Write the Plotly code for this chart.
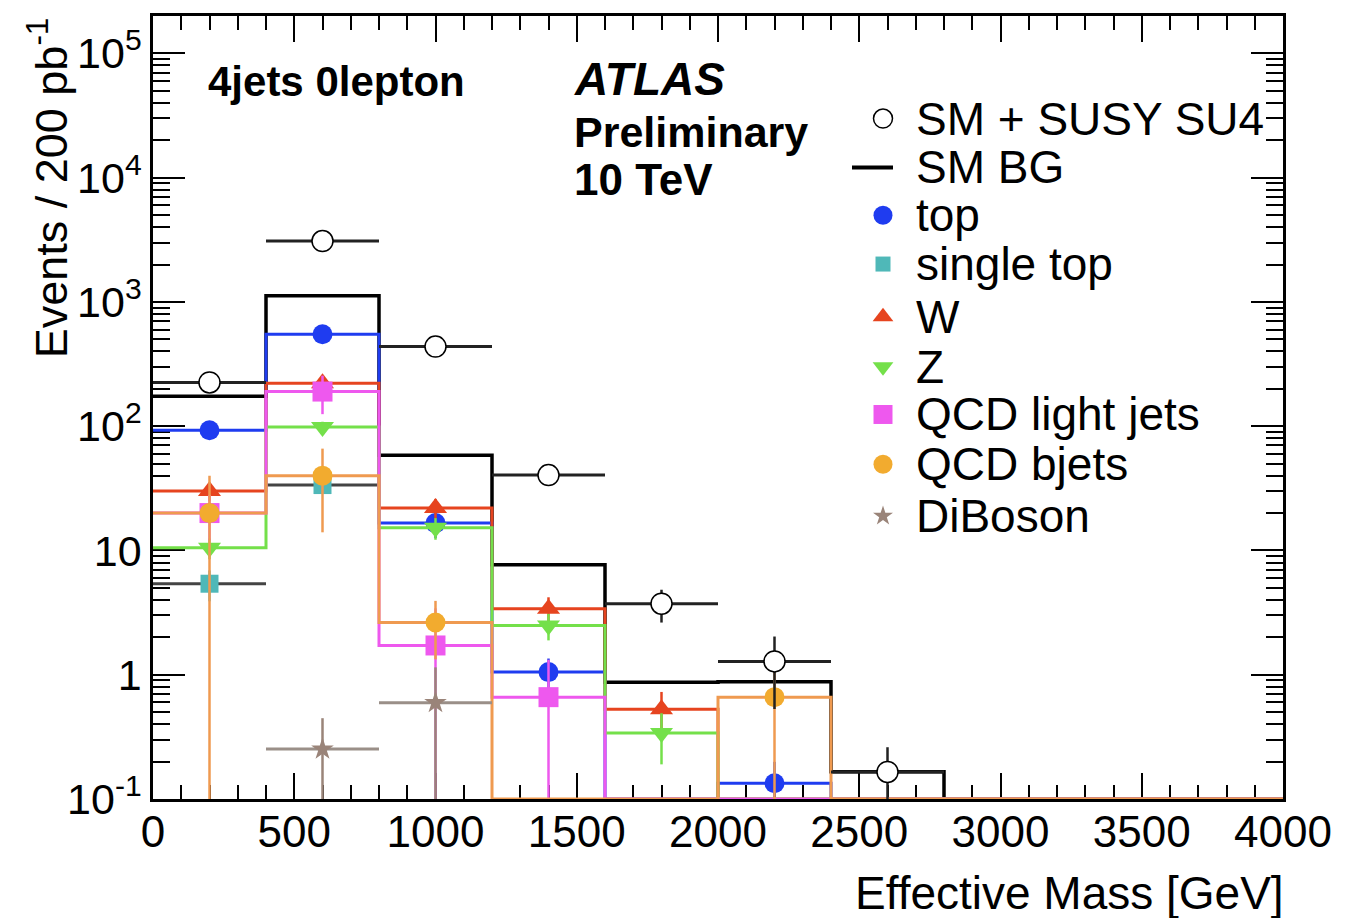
import math
import plotly.graph_objects as go

# ---------------- data ----------------
bin_edges = [0, 400, 800, 1200, 1600, 2000, 2400, 2800, 3200, 3600, 4000]
bin_centers = [200, 600, 1000, 1400, 1800, 2200, 2600, 3000, 3400, 3800]

susy_su4 = [225, 3090, 437, 40.4, 3.73, 1.28, 0.165, 0, 0, 0]
susy_su4_err = [15, 56, 21, 6.4, 1.1, 0.75, 0.096, 0, 0, 0]

sm_bg = [174, 1120, 58.4, 7.67, 0.87, 0.88, 0.166, 0, 0, 0]

top = [92.7, 549, 16.6, 1.05, 0, 0.134, 0, 0, 0, 0]
top_err = [9, 23, 4, 0.3, 0, 0.065, 0, 0, 0, 0]

single_top = [5.4, 33.6, 0, 0, 0, 0, 0, 0, 0, 0]
single_top_err = [1.5, 5, 0, 0, 0, 0, 0, 0, 0, 0]

w_boson = [30.1, 222, 22, 3.4, 0.527, 0, 0, 0, 0, 0]
w_err = [5, 15, 4, 0.8, 0.2, 0, 0, 0, 0, 0]

z_boson = [10.5, 98.6, 15.2, 2.49, 0.34, 0, 0, 0, 0, 0]
z_err = [2, 10, 3, 0.6, 0.15, 0, 0, 0, 0, 0]

qcd_light = [20, 190, 1.72, 0.66, 0, 0, 0, 0, 0, 0]
qcd_light_err = [8, 65, 1.7, 0.66, 0, 0, 0, 0, 0, 0]

qcd_bjets = [20, 40, 2.63, 0, 0, 0.66, 0, 0, 0, 0]
qcd_bjets_err = [20, 26, 1.3, 0, 0, 0.6, 0, 0, 0, 0]

diboson = [0, 0.252, 0.596, 0, 0, 0, 0, 0, 0, 0]
diboson_err = [0, 0.195, 0.55, 0, 0, 0, 0, 0, 0, 0]

x_tick_vals = [0, 500, 1000, 1500, 2000, 2500, 3000, 3500, 4000]
y_tick_vals = [0.1, 1, 10, 100, 1000, 10000, 100000]
y_tick_text = ["10<sup>-1</sup>", "1", "10", "10<sup>2</sup>", "10<sup>3</sup>",
               "10<sup>4</sup>", "10<sup>5</sup>"]

legend_labels = ["SM + SUSY SU4", "SM BG", "top", "single top", "W", "Z",
                 "QCD light jets", "QCD bjets", "DiBoson"]

# ---------------- style ----------------
YMIN, YMAX = 0.1, 2e5
FONT = "Liberation Sans, Arial, Helvetica, sans-serif"
C_TOP = "#1f3cf0"
C_STOP = "#4fb8b8"
C_W = "#e6441f"
C_Z = "#74e04a"
C_QL = "#ee58ee"
C_QB = "#f2ab2f"
C_QB_LINE = "#ef9a50"
C_DB = "#9a8479"

# page offset introduced by the default body margin of the html page
BODY = 8
W_PAGE, H_PAGE = 1367, 918
# plot area in page pixels
PL, PR, PT, PB = 153, 1283, 13, 799


def px_x(px):
    return (px - PL) / (PR - PL)


def px_y(py):
    return (PB - py) / (PB - PT)


def clip(vals):
    return [max(v, YMIN) for v in vals]


def step_trace(vals, color, width=3):
    ys = clip(vals) + [clip(vals)[-1]]
    return go.Scatter(x=bin_edges, y=ys, mode="lines", line_shape="hv",
                      line=dict(color=color, width=width), showlegend=False,
                      hoverinfo="skip")


def point_trace(vals, errs, symbol, color, size, err_color=None,
                xbars=False, xbar_color=None, line=None):
    xs, ys, ep, em, xe = [], [], [], [], []
    for c, v, e in zip(bin_centers, vals, errs):
        if v <= 0:
            continue
        xs.append(c)
        ys.append(v)
        ep.append(e)
        em.append(min(e, v - YMIN))
        xe.append(200)
    tr = go.Scatter(
        x=xs, y=ys, mode="markers",
        marker=dict(symbol=symbol, color=color, size=size,
                    line=line or dict(width=0)),
        error_y=dict(type="data", symmetric=False, array=ep, arrayminus=em,
                     color=err_color or color, thickness=2.5, width=0),
        showlegend=False, hoverinfo="skip")
    if xbars:
        tr.error_x = dict(type="data", array=xe, color=xbar_color or color,
                          thickness=3, width=0)
    return tr


fig = go.Figure()

fig.add_trace(step_trace(sm_bg, "black", 3.5))

fig.add_trace(step_trace(top, C_TOP))
fig.add_trace(point_trace(top, top_err, "circle", C_TOP, 20))

fig.add_trace(point_trace(single_top, single_top_err, "square", C_STOP, 18,
                          err_color=C_STOP, xbars=True, xbar_color="#444444"))

fig.add_trace(step_trace(w_boson, C_W))
fig.add_trace(point_trace(w_boson, w_err, "triangle-up", C_W, 20))

fig.add_trace(step_trace(z_boson, C_Z))
fig.add_trace(point_trace(z_boson, z_err, "triangle-down", C_Z, 20))

fig.add_trace(step_trace(qcd_light, C_QL))
fig.add_trace(point_trace(qcd_light, qcd_light_err, "square", C_QL, 20))

fig.add_trace(step_trace(qcd_bjets, C_QB_LINE))
fig.add_trace(point_trace(qcd_bjets, qcd_bjets_err, "circle", C_QB, 20,
                          err_color=C_QB_LINE))

fig.add_trace(point_trace(diboson, diboson_err, "star", C_DB, 17,
                          xbars=True, xbar_color="#9a8f88"))

fig.add_trace(point_trace(susy_su4, susy_su4_err, "circle", "white", 21,
                          err_color="#222222", xbars=True, xbar_color="#222222",
                          line=dict(color="black", width=1.5)))

# ---------------- manual legend (overlay axes in page-pixel units) ----------
leg_y = [116, 165, 213, 262, 315, 365, 413, 463, 515]
leg_x = 883
leg_styles = [
    dict(symbol="circle", color="white", size=19, line=dict(color="black", width=1.5)),
    None,
    dict(symbol="circle", color=C_TOP, size=19),
    dict(symbol="square", color=C_STOP, size=15),
    dict(symbol="triangle-up", color=C_W, size=18),
    dict(symbol="triangle-down", color=C_Z, size=18),
    dict(symbol="square", color=C_QL, size=19),
    dict(symbol="circle", color=C_QB, size=19),
    dict(symbol="star", color=C_DB, size=15),
]
for lab, yy, st in zip(legend_labels, leg_y, leg_styles):
    if st is None:
        fig.add_trace(go.Scatter(x=[852, 893], y=[yy, yy], mode="lines",
                                 line=dict(color="black", width=4),
                                 xaxis="x2", yaxis="y2", showlegend=False,
                                 hoverinfo="skip"))
    else:
        fig.add_trace(go.Scatter(x=[leg_x], y=[yy], mode="markers", marker=st,
                                 xaxis="x2", yaxis="y2", showlegend=False,
                                 hoverinfo="skip"))
    fig.add_annotation(x=px_x(914), y=px_y(yy), xref="paper", yref="paper",
                       text=lab, showarrow=False, xanchor="left",
                       yanchor="middle", font=dict(family=FONT, size=46,
                                                   color="black"))

# ---------------- texts ----------------
fig.add_annotation(x=px_x(206), y=px_y(79), xref="paper", yref="paper",
                   text="<b>4jets 0lepton</b>", showarrow=False, xanchor="left",
                   yanchor="middle", font=dict(family=FONT, size=42, color="black"))
fig.add_annotation(x=px_x(572), y=px_y(76), xref="paper", yref="paper",
                   text="<b><i>ATLAS</i></b>", showarrow=False, xanchor="left",
                   yanchor="middle", font=dict(family=FONT, size=46, color="black"))
fig.add_annotation(x=px_x(572), y=px_y(129), xref="paper", yref="paper",
                   text="<b>Preliminary</b>", showarrow=False, xanchor="left",
                   yanchor="middle", font=dict(family=FONT, size=43, color="black"))
fig.add_annotation(x=px_x(572), y=px_y(177), xref="paper", yref="paper",
                   text="<b>10 TeV</b>", showarrow=False, xanchor="left",
                   yanchor="middle", font=dict(family=FONT, size=44, color="black"))

# axis titles
fig.add_annotation(x=px_x(1286), y=px_y(893), xref="paper", yref="paper",
                   text="Effective Mass [GeV]", showarrow=False, xanchor="right",
                   yanchor="middle", font=dict(family=FONT, size=46, color="black"))
fig.add_annotation(x=px_x(48), y=px_y(186), xref="paper", yref="paper",
                   text="Events / 200 pb<sup>-1</sup>", showarrow=False,
                   textangle=-90, xanchor="center", yanchor="middle",
                   font=dict(family=FONT, size=45, color="black"))

# ---------------- axes ----------------
y_minor = []
for n in range(-1, 6):
    for k in range(2, 10):
        v = k * 10 ** n
        if v <= YMAX:
            y_minor.append(v)

fig.update_layout(
    width=W_PAGE - BODY, height=H_PAGE - BODY,
    margin=dict(l=PL - BODY, r=W_PAGE - PR, t=PT - BODY, b=H_PAGE - PB),
    paper_bgcolor="white", plot_bgcolor="white",
    showlegend=False,
    font=dict(family=FONT, size=44, color="black"),
    xaxis=dict(
        range=[0, 4000], tickmode="array", tickvals=x_tick_vals,
        ticktext=[str(v) for v in x_tick_vals],
        ticks="inside", ticklen=26, tickwidth=2, tickcolor="black",
        showline=True, linewidth=2.5, linecolor="black", mirror="ticks",
        showgrid=False, zeroline=False, layer="below traces",
        ticklabelstandoff=-8,
        tickfont=dict(family=FONT, size=44, color="black"),
        minor=dict(dtick=100, ticks="inside", ticklen=14, tickwidth=1.5,
                   tickcolor="black", showgrid=False),
    ),
    yaxis=dict(
        type="log", range=[math.log10(YMIN), math.log10(YMAX)],
        tickmode="array", tickvals=y_tick_vals, ticktext=y_tick_text,
        ticks="inside", ticklen=32, tickwidth=2, tickcolor="black",
        showline=True, linewidth=2.5, linecolor="black", mirror="ticks",
        showgrid=False, zeroline=False, layer="below traces",
        tickfont=dict(family=FONT, size=43, color="black"),
        minor=dict(tickmode="array", tickvals=y_minor, ticks="inside",
                   ticklen=17, tickwidth=1.5, tickcolor="black",
                   showgrid=False),
    ),
    xaxis2=dict(range=[PL, PR], overlaying="x", visible=False,
                fixedrange=True),
    yaxis2=dict(range=[PB, PT], overlaying="y", visible=False,
                fixedrange=True),
)

fig.write_html("out.html")
